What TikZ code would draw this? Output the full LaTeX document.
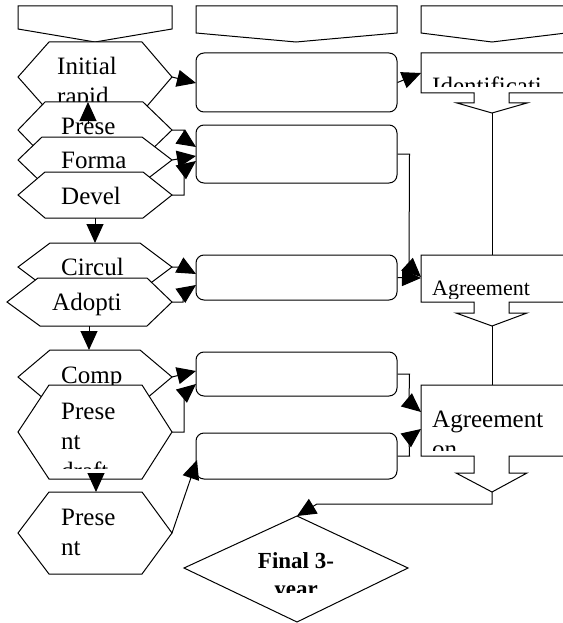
\documentclass[tikz,border=0pt]{standalone}
\usepackage{fontspec}
\setmainfont{Liberation Serif}
\usetikzlibrary{arrows.meta}
\begin{document}
\begin{tikzpicture}[x=1pt,y=-1pt,
  shp/.style={draw=black, fill=white, line width=1pt, line join=miter},
  conn/.style={draw=black, line width=1pt},
  arr/.style={conn, -{Triangle[length=19pt,width=17pt]}},
  lbl/.style={anchor=base west, inner sep=0pt, font=\fontsize{25}{30}\selectfont},
  slbl/.style={anchor=base west, inner sep=0pt, font=\fontsize{22}{30}\selectfont},
  blbl/.style={anchor=base, inner sep=0pt, font=\fontsize{23}{30}\selectfont\bfseries},
  rbox/.style={shp, rounded corners=8pt, minimum width=201pt, inner sep=0pt}]
\useasboundingbox (0,0) rectangle (562,623);

% ---- headers
\draw[shp] (18,6) -- (172,6) -- (172,29) -- (95,42) -- (18,29) -- cycle;
\draw[shp] (196,6) -- (397,6) -- (397,33) -- (296,42) -- (196,33) -- cycle;
\draw[shp] (421,6) -- (566,6) -- (566,33) -- (492,42) -- (421,33) -- cycle;

% ---- column 1 hexagons
\draw[shp] (18,77) -- (49,42) -- (142,42) -- (172,77) -- (142,112) -- (49,112) -- cycle;
\node[lbl] (tInit) at (57,75) {Initial};
\node[lbl] (tRapid) at (57,105) {rapid};
\coordinate (initE) at (172,77);

\draw[shp] (18,130) -- (45,102) -- (143,102) -- (172,130) -- (143,158) -- (45,158) -- cycle;
\node[lbl] (tPrese) at (61,134) {Prese};
\coordinate (preseE) at (172,130);
\coordinate (preseS) at (88,124);
\coordinate (initS) at (88,102);

\draw[shp] (18,160) -- (42,137) -- (142,137) -- (172,160) -- (142,183) -- (42,183) -- cycle;
\node[lbl] (tForma) at (61,168) {Forma};
\coordinate (formaE) at (172,160);

\draw[shp] (18,195) -- (45,172) -- (143,172) -- (172,195) -- (143,218) -- (45,218) -- cycle;
\node[lbl] (tDevel) at (61,204) {Devel};
\coordinate (develE) at (172,195);
\coordinate (develS) at (95,218);

\draw[shp] (18,267) -- (50,243) -- (140,243) -- (172,267) -- (140,291) -- (50,291) -- cycle;
\node[lbl] (tCircul) at (61,275) {Circul};
\coordinate (circulE) at (172,267);
\coordinate (circulN) at (95,243);

\draw[shp] (7,302) -- (38,278) -- (147,278) -- (172,302) -- (147,326) -- (40,326) -- cycle;
\node[lbl] (tAdopti) at (52,310) {Adopti};
\coordinate (adoptiE) at (172,302);
\coordinate (adoptiS) at (89,326);

\draw[shp] (18,377) -- (50,350) -- (140,350) -- (172,377) -- (140,404) -- (50,404) -- cycle;
\node[lbl] (tComp) at (61,383) {Comp};
\coordinate (compE) at (172,377);
\coordinate (compN) at (89,350);

\draw[shp] (18,432) -- (49,385) -- (142,385) -- (172,432) -- (142,479) -- (49,479) -- cycle;
\begin{scope}
  \clip (40,386) rectangle (150,468);
  \node[lbl] (tPd1) at (61,419) {Prese};
  \node[lbl] (tPd2) at (61,449) {nt};
  \node[lbl] (tPd3) at (61,479) {draft};
\end{scope}
\coordinate (pdE) at (172,432);
\coordinate (pdS) at (96,479);

\draw[shp] (18,533) -- (49,492) -- (142,492) -- (172,533) -- (142,574) -- (49,574) -- cycle;
\node[lbl] (tPr1) at (61,525) {Prese};
\node[lbl] (tPr2) at (61,555) {nt};
\coordinate (prE) at (172,533);
\coordinate (prN) at (96,492);

% ---- column 2 rounded boxes
\node[rbox, minimum height=59pt] (r1) at (296.5,82.5) {};
\node[rbox, minimum height=58pt] (r2) at (296.5,154) {};
\node[rbox, minimum height=45pt] (r3) at (296.5,277.5) {};
\node[rbox, minimum height=44pt] (r4) at (296.5,374) {};
\node[rbox, minimum height=46pt] (r5) at (296.5,456) {};

% ---- column 3 callouts
\draw[shp] (421,53) -- (566,53) -- (566,93) -- (509,93) -- (509,103) -- (527,103) -- (492,113)
  -- (457,103) -- (474,103) -- (474,93) -- (421,93) -- cycle;
\begin{scope}
  \clip (422,54) rectangle (562,87);
  \node[lbl] (tIdent) at (432,95) {Identificati};
\end{scope}
\coordinate (c1W) at (421,73);
\coordinate (c1T) at (492,113);

\draw[shp] (421,255) -- (566,255) -- (566,302) -- (509,302) -- (509,313) -- (527,313) -- (492,326)
  -- (456,313) -- (474,313) -- (474,302) -- (421,302) -- cycle;
\begin{scope}
  \clip (422,256) rectangle (562,298);
  \node[slbl] (tAgr) at (432,295) {Agreement};
\end{scope}
\coordinate (c2N) at (492,255);
\coordinate (c2T) at (492,326);

\draw[shp] (421,385) -- (566,385) -- (566,456) -- (509,456) -- (509,473) -- (527,473) -- (492,492)
  -- (456,473) -- (474,473) -- (474,456) -- (421,456) -- cycle;
\begin{scope}
  \clip (422,386) rectangle (562,450);
  \node[lbl] (tAgr2) at (432,427) {Agreement};
  \node[lbl] (tOn) at (432,457) {on};
\end{scope}
\coordinate (c3N) at (492,385);
\coordinate (c3T) at (492,492);

% ---- diamond
\draw[shp] (297,516) -- (408,568) -- (297,622) -- (184,568) -- cycle;
\coordinate (dN) at (297,516);
\node[blbl] (tFinal) at (296,568) {Final 3-};
\begin{scope}
  \clip (230,575) rectangle (360,592);
  \node[blbl] (tYear) at (296,596) {year};
\end{scope}

% ---- connectors column 1 -> column 2
\coordinate (r1a) at (196,83);
\coordinate (r2a) at (196,147);
\coordinate (r2b) at (196,156);
\coordinate (r2c) at (196,161);
\coordinate (r3a) at (196,274);
\coordinate (r3b) at (196,285);
\coordinate (r4a) at (196,371);
\coordinate (r4b) at (196,384);
\coordinate (r5a) at (197,460);
\draw[arr] (initE) -- (r1a);
\draw[arr] (preseE) -- ++(12,0) -- ++(0,9) -- (r2a);
\draw[arr] (formaE) -- (r2b);
\draw[arr] (develE) -- ++(12,0) -- ++(0,-25) -- (r2c);
\draw[arr] (circulE) -- ++(11,0) -- (r3a);
\draw[arr] (adoptiE) -- ++(11,0) -- ++(0,-8) -- (r3b);
\draw[arr] (compE) -- (r4a);
\draw[arr] (pdE) -- ++(12,0) -- ++(0,-38) -- (r4b);
\draw[arr] (prE) -- (r5a);

% ---- vertical arrows column 1
\draw[arr] (preseS) -- (initS);
\draw[arr] (develS) -- (circulN);
\draw[arr] (adoptiS) -- (compN);
\draw[arr] (pdS) -- (prN);

% ---- column 2 -> column 3
\coordinate (c2a) at (421,277);
\coordinate (c2b) at (421,278);
\coordinate (c3a) at (421,412);
\coordinate (c3b) at (421,429);
\draw[arr] (r1.east) -- (c1W);
\draw[arr] (r2.east) -- ++(12,0) -- (409,266) -- (c2a);
\draw[arr] (r3.east) -- (c2b);
\draw[arr] (r4.east) -- ++(12,0) -- (409,402) -- (c3a);
\draw[arr] (r5.east) -- ++(12,0) -- (409,438) -- (c3b);

% ---- column 3 chain
\draw[conn] (c1T) -- (c2N);
\draw[conn] (c2T) -- (c3N);
\draw[arr] (c3T) -- (492,504) -- (317,504) -- (dN);
\end{tikzpicture}
\end{document}
